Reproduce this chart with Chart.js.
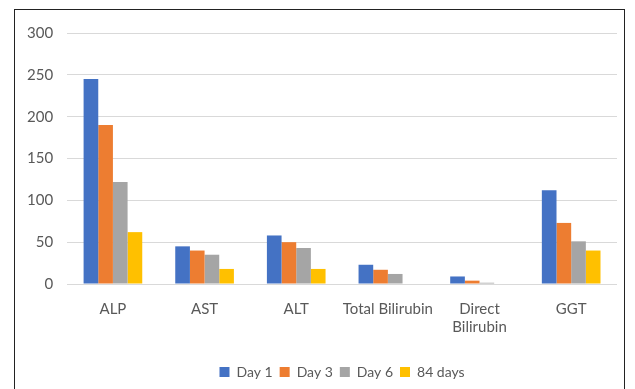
<!DOCTYPE html>
<html>
<head>
<meta charset="utf-8">
<script src="https://cdn.jsdelivr.net/npm/chart.js@4"></script>
<style>
  html, body { margin: 0; padding: 0; background: #fff; overflow: hidden; }
  #wrap { position: relative; width: 635px; height: 389px; }
  #frame { position: absolute; left: 14px; top: 9px; width: 609px; height: 400px; border: 1.5px solid #222; }
  canvas { position: absolute; left: 0; top: 0; }
</style>
</head>
<body>
<div id="wrap">
  <div id="frame"></div>
  <canvas id="chart" width="635" height="389"></canvas>
</div>
<script>
const categorias = ['ALP', 'AST', 'ALT', 'Total Bilirubin', ['Direct', 'Bilirubin'], 'GGT'];
const dia1 = [245, 45, 58, 23, 9, 112];
const dia3 = [190, 40, 50, 17, 4, 73];
const dia6 = [122, 35, 43, 12, 1.5, 51];
const dias84 = [62, 18, 18, 0, 0, 40];
const ticksY = [0, 50, 100, 150, 200, 250, 300];

const colores = ['#4472C4', '#ED7D31', '#A5A5A5', '#FFC000'];
const texto = '#595959';
const fuente = { family: 'Lato', size: 15 };

const ctx = document.getElementById('chart').getContext('2d');
new Chart(ctx, {
    type: 'bar',
    data: {
        labels: categorias,
        datasets: [
            { label: 'Day 1', data: dia1, backgroundColor: colores[0] },
            { label: 'Day 3', data: dia3, backgroundColor: colores[1] },
            { label: 'Day 6', data: dia6, backgroundColor: colores[2] },
            { label: '84 days', data: dias84, backgroundColor: colores[3] }
        ]
    },
    options: {
        responsive: false,
        animation: false,
        layout: { padding: { left: 13, right: 18, top: 33, bottom: 0 } },
        datasets: { bar: { barPercentage: 1, categoryPercentage: 0.64 } },
        plugins: {
            legend: {
                position: 'bottom',
                fullSize: false,
                labels: {
                    boxWidth: 10, boxHeight: 10, padding: 7,
                    color: texto, font: { family: 'Lato', size: 14 }
                }
            },
            tooltip: { enabled: false }
        },
        scales: {
            x: {
                grid: { display: false },
                border: { display: false },
                ticks: { color: texto, font: fuente, maxRotation: 0, autoSkip: false, padding: 8 },
                afterFit: (axis) => { axis.height += 14; }
            },
            y: {
                min: ticksY[0],
                max: ticksY[ticksY.length - 1],
                afterBuildTicks: (axis) => { axis.ticks = ticksY.map(v => ({ value: v })); },
                grid: { color: '#d9d9d9', lineWidth: 1, drawTicks: false },
                border: { display: false },
                ticks: { color: texto, font: fuente, padding: 14 }
            }
        }
    }
});
</script>
</body>
</html>
